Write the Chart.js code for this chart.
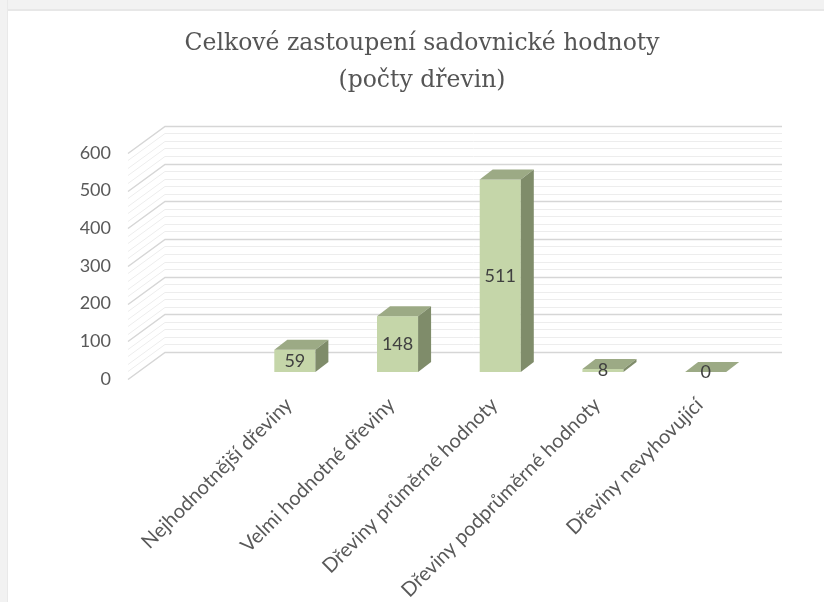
<!DOCTYPE html>
<html>
<head>
<meta charset="utf-8">
<script src="https://cdn.jsdelivr.net/npm/chart.js@4"></script>
<style>
  body { margin: 0; background: #fff; }
  #wrap { position: relative; width: 824px; height: 602px; overflow: hidden; background: #fff; }
  #topbar { position: absolute; left: 0; top: 0; width: 824px; height: 9px; background: #f2f2f2; border-bottom: 2px solid #e7e7e7; }
  #leftbar { position: absolute; left: 0; top: 0; width: 7px; height: 602px; background: #f2f2f2; border-right: 1px solid #e9e9e9; }
  canvas { position: absolute; left: 0; top: 0; }
</style>
</head>
<body>
<div id="wrap">
  <div id="topbar"></div>
  <div id="leftbar"></div>
  <canvas id="bar-chart" width="824" height="602"></canvas>
</div>
<script>
var categories = ["Nejhodnotnější dřeviny", "Velmi hodnotné dřeviny", "Dřeviny průměrné hodnoty", "Dřeviny podprůměrné hodnoty", "Dřeviny nevyhovující"];
var counts = [59, 148, 511, 8, 0];
var titleLines = ["Celkové zastoupení sadovnické hodnoty", "(počty dřevin)"];
var yTicks = [0, 100, 200, 300, 400, 500, 600];

var frontColor = "#c5d6a9";
var topColor = "#9caa85";
var sideColor = "#7f8c6a";

// back wall + left wall lines (3d look), minor every 20
var wallLines = {
  id: "wallLines",
  beforeDatasetsDraw: function(chart) {
    var ctx = chart.ctx;
    var y = chart.scales.y;
    ctx.save();
    for (var v = 0; v <= 600; v += 20) {
      var py = Math.round(y.getPixelForValue(v)) + 0.5;
      ctx.strokeStyle = (v % 100 == 0) ? "#d6d6d6" : "#ededed";
      ctx.lineWidth = (v % 100 == 0) ? 1.5 : 1;
      ctx.beginPath();
      ctx.moveTo(128, py + 7);
      ctx.lineTo(165, py - 20);
      ctx.lineTo(782, py - 20);
      ctx.stroke();
    }
    ctx.restore();
  }
};

var bars3d = {
  id: "bars3d",
  afterDatasetsDraw: function(chart) {
    var ctx = chart.ctx;
    var meta = chart.getDatasetMeta(0);
    var dx = 13, dy = -10;
    ctx.save();
    meta.data.forEach(function(bar, i) {
      var l = bar.x - bar.width / 2;
      var r = bar.x + bar.width / 2;
      var t = bar.y;
      var b = bar.base;
      ctx.fillStyle = topColor;
      ctx.beginPath();
      ctx.moveTo(l, t);
      ctx.lineTo(r, t);
      ctx.lineTo(r + dx, t + dy);
      ctx.lineTo(l + dx, t + dy);
      ctx.closePath();
      ctx.fill();
      ctx.fillStyle = sideColor;
      ctx.beginPath();
      ctx.moveTo(r, t);
      ctx.lineTo(r + dx, t + dy);
      ctx.lineTo(r + dx, b + dy);
      ctx.lineTo(r, b);
      ctx.closePath();
      ctx.fill();

      ctx.fillStyle = "#404040";
      ctx.font = "18px Lato";
      ctx.textAlign = "center";
      ctx.textBaseline = "middle";
      ctx.fillText(String(counts[i]), bar.x, (t + b) / 2);
    });
    ctx.restore();
  }
};

new Chart("bar-chart", {
  type: "bar",
  data: {
    labels: categories,
    datasets: [{
      data: counts,
      backgroundColor: frontColor,
      borderWidth: 0,
      barPercentage: 0.4,
      categoryPercentage: 1
    }]
  },
  options: {
    responsive: false,
    animation: false,
    layout: { padding: { left: 20, right: 0, top: 0, bottom: 0 } },
    plugins: {
      legend: { display: false },
      tooltip: { enabled: false },
      title: {
        display: true,
        text: titleLines,
        color: "#555555",
        font: { family: "DejaVu Serif", size: 23.5, weight: "normal", lineHeight: 1.55 },
        padding: { top: 26, bottom: 47 }
      }
    },
    scales: {
      x: {
        grid: { display: false, drawTicks: false },
        border: { display: false },
        ticks: {
          color: "#595959",
          font: { family: "Lato", size: 20 },
          minRotation: 45,
          maxRotation: 45,
          autoSkip: false,
          padding: 21,
          labelOffset: -6
        },
        afterFit: function(scale) { scale.height = 230; }
      },
      y: {
        min: 0,
        max: 600,
        grid: { display: false, drawTicks: false },
        border: { display: false },
        afterBuildTicks: function(scale) {
          scale.ticks = yTicks.map(function(v) { return { value: v }; });
        },
        ticks: {
          color: "#595959",
          font: { family: "Lato", size: 18 },
          padding: 132.5,
          labelOffset: 7
        },
        afterFit: function(scale) { scale.width = 223.5; }
      },
      yRight: {
        position: "right",
        display: true,
        grid: { display: false, drawTicks: false },
        border: { display: false },
        ticks: { display: false },
        afterFit: function(scale) { scale.width = 67; }
      }
    }
  },
  plugins: [wallLines, bars3d]
});
</script>
</body>
</html>
